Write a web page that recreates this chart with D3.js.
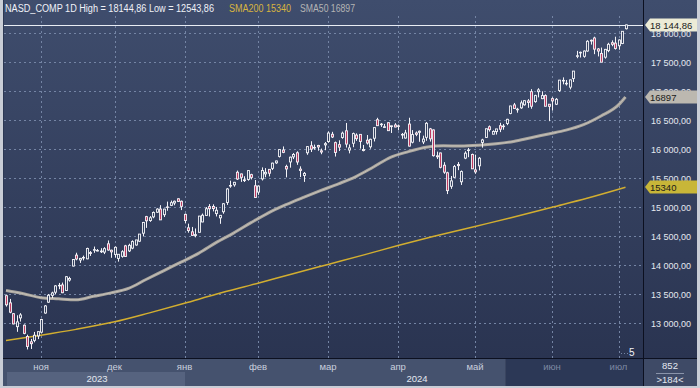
<!DOCTYPE html>
<html><head><meta charset="utf-8">
<script src="https://cdn.jsdelivr.net/npm/d3@7"></script>
<style>html,body{margin:0;padding:0;background:#c9cdd6;}svg{display:block;}</style>
</head><body><svg id="c" width="700" height="388"></svg>
<script>
// ---- DATA ----
const dates = ["2023-10-18","2023-10-19","2023-10-20","2023-10-23","2023-10-24","2023-10-25","2023-10-26","2023-10-27","2023-10-30","2023-10-31",
"2023-11-01","2023-11-02","2023-11-03","2023-11-06","2023-11-07","2023-11-08","2023-11-09","2023-11-10","2023-11-13","2023-11-14","2023-11-15","2023-11-16","2023-11-17","2023-11-20","2023-11-21","2023-11-22","2023-11-24","2023-11-27","2023-11-28","2023-11-29","2023-11-30",
"2023-12-01","2023-12-04","2023-12-05","2023-12-06","2023-12-07","2023-12-08","2023-12-11","2023-12-12","2023-12-13","2023-12-14","2023-12-15","2023-12-18","2023-12-19","2023-12-20","2023-12-21","2023-12-22","2023-12-26","2023-12-27","2023-12-28","2023-12-29",
"2024-01-02","2024-01-03","2024-01-04","2024-01-05","2024-01-08","2024-01-09","2024-01-10","2024-01-11","2024-01-12","2024-01-16","2024-01-17","2024-01-18","2024-01-19","2024-01-22","2024-01-23","2024-01-24","2024-01-25","2024-01-26","2024-01-29","2024-01-30","2024-01-31",
"2024-02-01","2024-02-02","2024-02-05","2024-02-06","2024-02-07","2024-02-08","2024-02-09","2024-02-12","2024-02-13","2024-02-14","2024-02-15","2024-02-16","2024-02-20","2024-02-21","2024-02-22","2024-02-23","2024-02-26","2024-02-27","2024-02-28","2024-02-29",
"2024-03-01","2024-03-04","2024-03-05","2024-03-06","2024-03-07","2024-03-08","2024-03-11","2024-03-12","2024-03-13","2024-03-14","2024-03-15","2024-03-18","2024-03-19","2024-03-20","2024-03-21","2024-03-22","2024-03-25","2024-03-26","2024-03-27","2024-03-28",
"2024-04-01","2024-04-02","2024-04-03","2024-04-04","2024-04-05","2024-04-08","2024-04-09","2024-04-10","2024-04-11","2024-04-12","2024-04-15","2024-04-16","2024-04-17","2024-04-18","2024-04-19","2024-04-22","2024-04-23","2024-04-24","2024-04-25","2024-04-26","2024-04-29","2024-04-30",
"2024-05-01","2024-05-02","2024-05-03","2024-05-06","2024-05-07","2024-05-08","2024-05-09","2024-05-10","2024-05-13","2024-05-14","2024-05-15","2024-05-16","2024-05-17","2024-05-20","2024-05-21","2024-05-22","2024-05-23","2024-05-24","2024-05-28","2024-05-29","2024-05-30","2024-05-31",
"2024-06-03","2024-06-04","2024-06-05","2024-06-06","2024-06-07","2024-06-10","2024-06-11","2024-06-12","2024-06-13","2024-06-14","2024-06-17","2024-06-18","2024-06-20","2024-06-21","2024-06-24","2024-06-25","2024-06-26","2024-06-27","2024-06-28",
"2024-07-01","2024-07-02","2024-07-03"];

const open = [13471,13347,13161,12937,13088,12962,12767,12676,12700,12778,
12841,13172,13359,13476,13531,13648,13656,13560,13740,13982,14170,14086,14131,14106,14214,14254,14251,14227,14222,14365,14255,
14181,14113,14149,14330,14243,14291,14345,14410,14548,14834,14766,14830,14910,14965,14867,15001,15028,15069,15142,15099,
14873,14641,14572,14508,14564,14742,14855,15007,15008,14886,14813,14918,15077,15371,15382,15599,15570,15469,15474,15558,15366,
15257,15485,15571,15649,15666,15761,15872,15982,15700,15777,15864,15935,15653,15544,15935,16056,16027,16061,15969,16071,
16128,16254,16110,16075,16199,16314,15982,16099,16240,16252,15991,16152,16038,16185,16505,16423,16371,16454,16386,16414,
16399,16252,16189,16430,16117,16276,16287,16122,16201,16347,16329,15883,15932,15720,15590,15357,15512,15734,15435,15843,15974,15905,
15639,15710,16113,16200,16384,16255,16300,16402,16395,16440,16613,16760,16685,16710,16762,16829,16989,16817,16988,16868,16921,16772,
16868,16772,17009,17183,17126,17066,17216,17606,17667,17598,17689,17875,17914,17725,17648,17583,17696,17833,17826,
17780,17819,18074];

const high = [13490,13415,13171,13133,13170,12975,12799,12726,12846,12851,
13073,13310,13500,13540,13653,13691,13697,13809,13797,14103,14212,14123,14162,14299,14240,14318,14275,14290,14307,14423,14265,
14320,14188,14255,14347,14367,14425,14433,14534,14743,14847,14843,14923,14979,15032,14969,15093,15111,15111,15150,15112,
14888,14713,14656,14630,14846,14887,14999,15050,15046,15001,14863,15067,15326,15454,15433,15628,15576,15530,15629,15573,15465,
15373,15683,15671,15652,15765,15800,16000,16044,15729,15869,15930,15960,15701,15603,16050,16134,16076,16072,16007,16120,
16303,16296,16128,16150,16300,16449,16079,16283,16269,16253,16070,16241,16178,16370,16538,16448,16432,16460,16401,16445,
16421,16276,16330,16539,16326,16302,16319,16230,16464,16363,16338,15955,15937,15773,15608,15534,15723,15775,15630,15961,16017,15921,
15902,15861,16176,16350,16406,16323,16346,16452,16430,16521,16743,16794,16710,16836,16840,16860,17032,16936,17048,16995,16942,16772,
16891,16878,17192,17235,17190,17196,17346,17692,17679,17699,17876,17887,17936,17740,17749,17726,17831,17873,17936,
17891,18031,18144.86];

const low = [13283,13168,12977,12848,13025,12806,12543.86,12552,12667,12722,
12818,13160,13349,13430,13500,13583,13514,13554,13714,13975,14081,14036,14080,14100,14156,14210,14235,14207,14188,14247,14124,
14129,14058,14127,14142,14224,14272,14333,14395,14493,14640,14744,14806,14899,14777,14827,14936,15016,15030,15087,14947,
14717,14557,14509,14477,14564,14738,14851,14836,14924,14837,14710,14884,15036,15332,15350,15466,15433,15431,15454,15475,15160,
15210,15457,15514,15527,15637,15743,15853,15928,15511,15678,15826,15727,15516,15433,15900,15948,15988,15970,15910,15979,
16107,16189,15870,15966,16177,16025,15925,16031,16140,16007,15959,16077,16005,16130,16398,16380,16366,16315,16276,16374,
16323,16175,16180,16043,16097,16221,16125,16085,16142,16128,15869,15827,15667,15572,15223,15313,15504,15635,15380,15825,15859,15655,
15572,15631,16023,16190,16300,16255,16249,16291,16332,16411,16599,16695,16626,16693,16748,16710,16694,16797,16890,16859,16736,16480,
16662,16758,16984,17115,17094,17028,17155,17565,17577,17574,17677,17800,17635,17596,17495,17558,17669,17772,17714,
17712,17808,18060];

const close = [13314,13186,12984,13019,13139,12821,12596,12643,12789,12851,
13061,13294,13478,13518,13640,13650,13522,13798,13768,14094,14104,14114,14125,14285,14199,14265,14251,14241,14282,14258,14226,
14305,14185,14229,14146,14339,14404,14432,14533,14734,14762,14814,14905,14964,14778,14964,14993,15075,15099,15095,15011,
14766,14593,14510,14524,14843,14858,14970,14970,14973,14944,14856,15056,15311,15361,15426,15482,15511,15455,15628,15510,15164,
15361,15629,15598,15582,15756,15794,15990,15942,15656,15859,15906,15776,15630,15580,16041,15997,16028,16035,15948,16092,
16275,16207,15940,16032,16273,16085,16019,16266,16178,16129,15973,16103,16167,16369,16402,16429,16384,16316,16400,16379,
16397,16241,16277,16050,16249,16253,16306,16171,16443,16175,15885,15866,15684,15601,15282,15451,15697,15713,15611,15928,15983,15658,
15605,15841,16156,16349,16333,16302,16346,16341,16388,16512,16742,16698,16686,16795,16833,16802,16737,16921,17019,16921,16737,16735,
16829,16857,17187,17173,17133,17192,17343,17608,17667,17689,17857,17862,17722,17689,17497,17718,17805,17805,17733,
17879,18029,18140];

// moving averages (date -> value)
const sma50Dates = ["2023-10-18","2023-10-25","2023-11-01","2023-11-08","2023-11-15","2023-11-22","2023-11-30","2023-12-07","2023-12-14","2023-12-21","2023-12-29","2024-01-08","2024-01-16","2024-01-23","2024-01-30","2024-02-06","2024-02-13","2024-02-21","2024-02-28","2024-03-06","2024-03-13","2024-03-20","2024-03-27","2024-04-04","2024-04-11","2024-04-18","2024-04-25","2024-05-02","2024-05-09","2024-05-16","2024-05-23","2024-05-31","2024-06-07","2024-06-14","2024-06-24","2024-07-01","2024-07-03"];
const sma50 = [13560,13505,13436,13416,13400,13460,13520,13597,13750,13900,14050,14200,14385,14550,14730,14900,15040,15165,15285,15400,15525,15690,15860,15955,16030,16055,16052,16065,16090,16130,16195,16260,16325,16420,16570,16760,16897];

const sma200Dates = ["2023-10-18","2023-11-01","2023-11-15","2023-12-01","2023-12-15","2024-01-02","2024-01-16","2024-02-01","2024-02-15","2024-03-01","2024-03-15","2024-04-01","2024-04-15","2024-05-01","2024-05-15","2024-06-03","2024-06-17","2024-07-03"];
const sma200 = [12700,12790,12890,13020,13175,13340,13495,13685,13850,14010,14170,14335,14490,14665,14810,14995,15150,15340];

const yTicks = [13000,13500,14000,14500,15000,15500,16000,16500,17000,17500,18000];
const monthStarts = ["2023-11-01","2023-12-01","2024-01-02","2024-02-01","2024-03-01","2024-04-01","2024-05-01","2024-06-03","2024-07-01"];
const monthLabels = ["ноя","дек","янв","фев","мар","апр","май","июн","июл"];
const yearLabels = ["2023","2024"];
const title = "NASD_COMP 1D High = 18144,86 Low = 12543,86";
const sma200Label = "SMA200 15340";
const sma50Label = "SMA50 16897";
const highValue = 18144.86, sma200Last = 15340, sma50Last = 16897;
const cornerTop = "852", cornerBottom = ">184<", markerLabel = "5";

// ---- LAYOUT ----
const FONT = "Liberation Sans, Arial, sans-serif";
const svg = d3.select("#c");
const P = {l:4, r:643, t:0, b:358};
const fmt = d3.formatLocale({decimal:",", thousands:"\u00a0", grouping:[3], currency:["",""]}).format(",.2f");
const x = d3.scaleBand().domain(dates).range([4.25, 4.25 + dates.length*3.5]).paddingInner(0);
const cx = d => x(d) + x.bandwidth()/2;
const y = d3.scaleLinear().domain([13000,18000]).range([323,33]);

const defs = svg.append("defs");
const g1 = defs.append("linearGradient").attr("id","bg").attr("x1",0).attr("y1",0).attr("x2",0).attr("y2",1);
g1.append("stop").attr("offset","0%").attr("stop-color","#3f4d6d");
g1.append("stop").attr("offset","100%").attr("stop-color","#2a3451");
defs.append("clipPath").attr("id","pc").append("rect").attr("x",P.l).attr("y",P.t).attr("width",P.r-P.l).attr("height",P.b-P.t);

// frame
svg.append("rect").attr("x",0).attr("y",0).attr("width",700).attr("height",388).attr("fill","#c9cdd6");
svg.append("rect").attr("x",3).attr("y",0).attr("width",694).attr("height",386).attr("fill","#2c3854");
svg.append("rect").attr("x",P.l).attr("y",P.t).attr("width",P.r-P.l).attr("height",P.b-P.t).attr("fill","url(#bg)");
svg.append("rect").attr("x",P.r+1).attr("y",0).attr("width",697-P.r-1).attr("height",P.b).attr("fill","url(#bg)");

const plot = svg.append("g").attr("clip-path","url(#pc)");
// grid
plot.selectAll("line.hg").data(yTicks).join("line").attr("class","hg")
  .attr("x1",P.l).attr("x2",P.r).attr("y1",d=>Math.round(y(d))+0.5).attr("y2",d=>Math.round(y(d))+0.5)
  .attr("stroke","#7484a4").attr("stroke-width",1).attr("stroke-dasharray","2,3");
plot.selectAll("line.vg").data(monthStarts).join("line").attr("class","vg")
  .attr("x1",d=>Math.round(cx(d))+0.5).attr("x2",d=>Math.round(cx(d))+0.5).attr("y1",16).attr("y2",P.b)
  .attr("stroke","#7484a4").attr("stroke-width",1).attr("stroke-dasharray","2,3");

// SMA lines
const line = d3.line().curve(d3.curveMonotoneX);
plot.append("path").attr("d", line(sma200Dates.map((d,i)=>[cx(d), y(sma200[i])])))
  .attr("fill","none").attr("stroke","#d2ae30").attr("stroke-width",1.5);
plot.append("path").attr("d", line(sma50Dates.map((d,i)=>[cx(d), y(sma50[i])])))
  .attr("fill","none").attr("stroke","#a9a59e").attr("stroke-width",3);
plot.append("path").attr("d", line(sma50Dates.map((d,i)=>[cx(d), y(sma50[i])])))
  .attr("fill","none").attr("stroke","#c4c0b8").attr("stroke-width",1);

// high line
plot.append("line").attr("x1",P.l).attr("x2",P.r).attr("y1",Math.round(y(highValue))+0.5).attr("y2",Math.round(y(highValue))+0.5)
  .attr("stroke","#e8ecf4").attr("stroke-width",1);

// candles
const cg = plot.append("g");
dates.forEach((d,i)=>{
  const xc = Math.round(cx(d)) + 0.5;
  cg.append("line").attr("x1",xc).attr("x2",xc).attr("y1",y(high[i])).attr("y2",y(low[i])).attr("stroke","#f4f4f8").attr("stroke-width",1);
  const top = y(Math.max(open[i],close[i])), bot = y(Math.min(open[i],close[i]));
  const up = close[i] >= open[i];
  cg.append("rect").attr("x",xc-1).attr("y",top).attr("width",2).attr("height",Math.max(0.6,bot-top))
    .attr("fill", up ? "#33405e" : "#bc3a60").attr("stroke","#f4f4f8").attr("stroke-width",0.9);
});

// legend
svg.append("text").attr("x",5).attr("y",12).attr("font-family",FONT).attr("font-size",10)
  .attr("textLength",209).attr("lengthAdjust","spacingAndGlyphs").attr("fill","#f0f2f8").text(title);
svg.append("text").attr("x",229).attr("y",12).attr("font-family",FONT).attr("font-size",10)
  .attr("textLength",62).attr("lengthAdjust","spacingAndGlyphs").attr("fill","#d8b440").text(sma200Label);
svg.append("text").attr("x",300).attr("y",12).attr("font-family",FONT).attr("font-size",10)
  .attr("textLength",55).attr("lengthAdjust","spacingAndGlyphs").attr("fill","#b4b4b4").text(sma50Label);

// right axis
svg.append("line").attr("x1",P.r+0.5).attr("x2",P.r+0.5).attr("y1",0).attr("y2",386).attr("stroke","#0c1020").attr("stroke-width",1);
svg.selectAll("text.yl").data(yTicks).join("text").attr("class","yl")
  .attr("x",651).attr("y",d=>y(d)+3.5).attr("font-family",FONT).attr("font-size",9)
  .attr("fill","#e4e8f0").text(d=>fmt(d));

function tag(v, txt, fill, col){
  const yy = Math.round(y(v));
  const g = svg.append("g");
  g.append("path").attr("d",`M${P.r+2},${yy} L${P.r+7},${yy-6.5} L697,${yy-6.5} L697,${yy+6.5} L${P.r+7},${yy+6.5} Z`).attr("fill",fill);
  g.append("text").attr("x",650).attr("y",yy+3.5).attr("font-family",FONT).attr("font-size",9.5).attr("fill",col).text(txt);
}
tag(highValue, fmt(highValue), "#ecebd6", "#1a1a1a");
tag(sma50Last, String(sma50Last), "#bcb8b0", "#1a1a1a");
tag(sma200Last, String(sma200Last), "#c8b638", "#1a1a1a");

// "5" marker
svg.append("line").attr("x1",621).attr("x2",628).attr("y1",353.5).attr("y2",353.5).attr("stroke","#7484a4").attr("stroke-dasharray","1,2");
svg.append("text").attr("x",629).attr("y",356).attr("font-family",FONT).attr("font-size",10).attr("fill","#f0f2f8").text(markerLabel);

// bottom axis
svg.append("rect").attr("x",3).attr("y",P.b+1).attr("width",502).attr("height",27).attr("fill","#45526e");
svg.append("rect").attr("x",505).attr("y",P.b+1).attr("width",P.r-505).attr("height",27).attr("fill","#2c3856");
svg.append("rect").attr("x",7).attr("y",372).attr("width",178).attr("height",14).attr("fill","#56637f");
svg.append("line").attr("x1",505.5).attr("x2",505.5).attr("y1",P.b+1).attr("y2",386).attr("stroke","#3a4560");
svg.append("line").attr("x1",3).attr("x2",697).attr("y1",P.b+0.5).attr("y2",P.b+0.5).attr("stroke","#0c1020");
svg.append("rect").attr("x",P.r+1).attr("y",P.b+1).attr("width",697-P.r-1).attr("height",27).attr("fill","#3e4a66");
svg.selectAll("text.ml").data(monthStarts).join("text").attr("class","ml")
  .attr("x",d=>cx(d)).attr("y",370).attr("text-anchor","middle").attr("font-family",FONT).attr("font-size",9.5)
  .attr("fill",(d,i)=> i>=7 ? "#7d88a2" : "#c9d0de").text((d,i)=>monthLabels[i]);
svg.append("text").attr("x",97).attr("y",382).attr("text-anchor","middle").attr("font-family",FONT).attr("font-size",9.5).attr("fill","#e4e8f0").text(yearLabels[0]);
svg.append("text").attr("x",417).attr("y",382).attr("text-anchor","middle").attr("font-family",FONT).attr("font-size",9.5).attr("fill","#e4e8f0").text(yearLabels[1]);
// corner
svg.append("text").attr("x",670).attr("y",369).attr("text-anchor","middle").attr("font-family",FONT).attr("font-size",9.5).attr("fill","#e4e8f0").text(cornerTop);
svg.append("line").attr("x1",656).attr("x2",684).attr("y1",373.5).attr("y2",373.5).attr("stroke","#8a94aa");
svg.append("text").attr("x",670).attr("y",383).attr("text-anchor","middle").attr("font-family",FONT).attr("font-size",9.5).attr("fill","#e4e8f0").text(cornerBottom);
</script></body></html>
